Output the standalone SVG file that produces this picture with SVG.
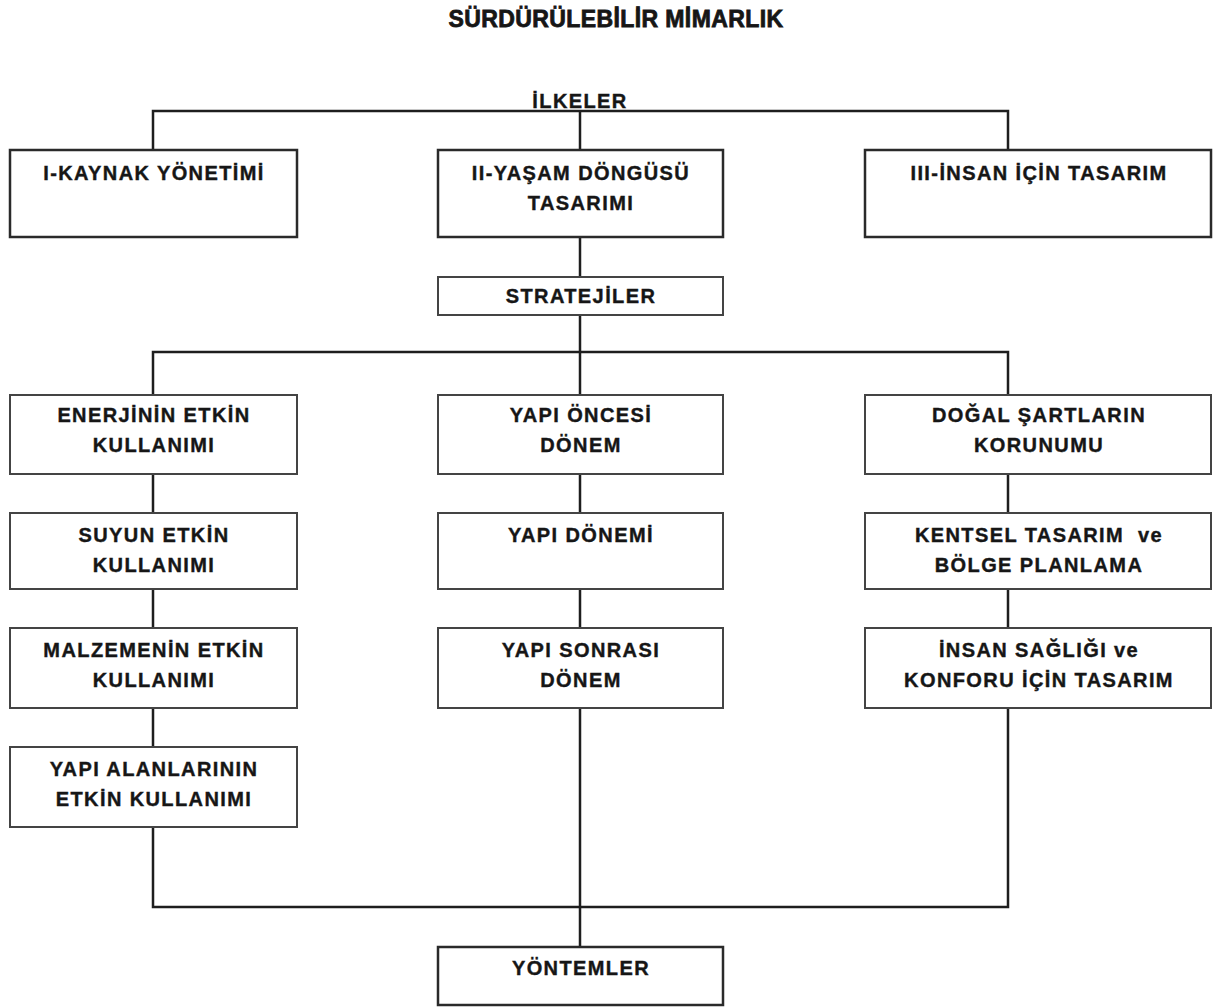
<svg xmlns="http://www.w3.org/2000/svg" width="1215" height="1008" viewBox="0 0 1215 1008">
<style>
.bg{fill:#fff}
.box{fill:#fff;stroke:#2a2a2a;stroke-width:2.5}
.box2{fill:#fff;stroke:#444;stroke-width:2}
.ln{fill:none;stroke:#1e1e1e;stroke-width:2.5}
text{font-family:"Liberation Sans",Arial,sans-serif;font-weight:bold;font-size:20px;fill:#161616;stroke:#161616;stroke-width:0.4;text-anchor:middle;letter-spacing:1.4px}
.title{font-size:23px;letter-spacing:0.4px;stroke-width:0.8}
</style>
<rect class="bg" x="0" y="0" width="1215" height="1008"/>
<text class="title" x="616" y="27">SÜRDÜRÜLEBİLİR MİMARLIK</text>
<g id="connectors">
<path class="ln" d="M153 150 V111 H1008 V150"/>
<path class="ln" d="M580 111 V150"/>
<path class="ln" d="M580 237 V277"/>
<path class="ln" d="M580 315 V352"/>
<path class="ln" d="M153 395 V352 H1008 V395"/>
<path class="ln" d="M580 352 V395"/>
<path class="ln" d="M153 474 V513 M153 589 V628 M153 708 V747"/>
<path class="ln" d="M580 474 V513 M580 589 V628"/>
<path class="ln" d="M1008 474 V513 M1008 589 V628"/>
<path class="ln" d="M153 827 V907 H1008 V708"/>
<path class="ln" d="M580 708 V947"/>
</g>
<g id="ilkeler"><text x="580" y="108">İLKELER</text></g>
<g id="kaynak"><rect class="box" x="10" y="150" width="287" height="87"/><text x="154" y="180">I-KAYNAK YÖNETİMİ</text></g>
<g id="yasam"><rect class="box" x="438" y="150" width="285" height="87"/><text x="581" y="180">II-YAŞAM DÖNGÜSÜ</text><text x="581" y="210">TASARIMI</text></g>
<g id="insan"><rect class="box" x="865" y="150" width="346" height="87"/><text x="1039" y="180">III-İNSAN İÇİN TASARIM</text></g>
<g id="stratejiler"><rect class="box2" x="438" y="277" width="285" height="38"/><text x="581" y="303">STRATEJİLER</text></g>
<g id="enerji"><rect class="box2" x="10" y="395" width="287" height="79"/><text x="154" y="422">ENERJİNİN ETKİN</text><text x="154" y="452">KULLANIMI</text></g>
<g id="suyun"><rect class="box2" x="10" y="513" width="287" height="76"/><text x="154" y="542">SUYUN ETKİN</text><text x="154" y="572">KULLANIMI</text></g>
<g id="malzeme"><rect class="box2" x="10" y="628" width="287" height="80"/><text x="154" y="657">MALZEMENİN ETKİN</text><text x="154" y="687">KULLANIMI</text></g>
<g id="alanlar"><rect class="box2" x="10" y="747" width="287" height="80"/><text x="154" y="776">YAPI ALANLARININ</text><text x="154" y="806">ETKİN KULLANIMI</text></g>
<g id="oncesi"><rect class="box2" x="438" y="395" width="285" height="79"/><text x="581" y="422">YAPI ÖNCESİ</text><text x="581" y="452">DÖNEM</text></g>
<g id="donemi"><rect class="box2" x="438" y="513" width="285" height="76"/><text x="581" y="542">YAPI DÖNEMİ</text></g>
<g id="sonrasi"><rect class="box2" x="438" y="628" width="285" height="80"/><text x="581" y="657">YAPI SONRASI</text><text x="581" y="687">DÖNEM</text></g>
<g id="dogal"><rect class="box2" x="865" y="395" width="346" height="79"/><text x="1039" y="422">DOĞAL ŞARTLARIN</text><text x="1039" y="452">KORUNUMU</text></g>
<g id="kentsel"><rect class="box2" x="865" y="513" width="346" height="76"/><text x="1039" y="542" xml:space="preserve">KENTSEL TASARIM  ve</text><text x="1039" y="572">BÖLGE PLANLAMA</text></g>
<g id="saglik"><rect class="box2" x="865" y="628" width="346" height="80"/><text x="1039" y="657">İNSAN SAĞLIĞI ve</text><text x="1039" y="687">KONFORU İÇİN TASARIM</text></g>
<g id="yontemler"><rect class="box" x="438" y="947" width="285" height="58"/><text x="581" y="975">YÖNTEMLER</text></g>
</svg>
